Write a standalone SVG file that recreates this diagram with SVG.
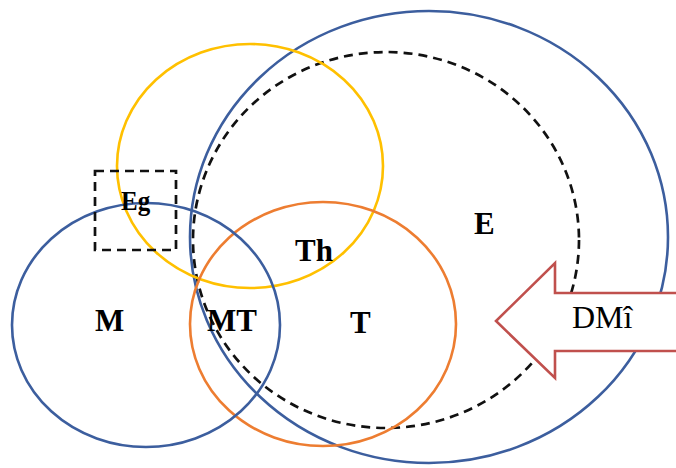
<svg xmlns="http://www.w3.org/2000/svg" width="676" height="468" viewBox="0 0 676 468">
<style>
.c{fill:none;stroke-width:2.6}
.blue{stroke:#3C5E9E}
.dash{fill:none;stroke:#111;stroke-width:2.7;stroke-dasharray:9 6}
.lb{font-family:"Liberation Serif",serif;font-weight:bold;font-size:31px;fill:#000}
</style>
<rect width="676" height="468" fill="#fff"/>
<g id="E"><ellipse class="c blue" cx="429" cy="237" rx="239" ry="226"/></g>
<g id="dashed-ellipse"><ellipse class="dash" cx="386" cy="240" rx="193" ry="188"/></g>
<g id="Th-circle"><ellipse class="c" stroke="#FFC000" cx="250" cy="166" rx="133" ry="122"/></g>
<g id="T-circle"><ellipse class="c" stroke="#ED7D31" cx="323" cy="324" rx="133" ry="122"/></g>
<g id="M-circle"><ellipse class="c blue" cx="146" cy="325" rx="134" ry="122"/></g>
<g id="Eg"><rect class="dash" x="95" y="171" width="81" height="79"/>
<text class="lb" x="121" y="210" style="font-size:25px" transform="translate(0,210) scale(1,1.12) translate(0,-210)">Eg</text></g>
<g id="DMi"><path d="M678,293 H555 V263 L496,321 L555,378 V351 H678 Z" fill="#fff" stroke="#C0504D" stroke-width="2.6"/>
<text x="572" y="328" font-family="'Liberation Serif',serif" font-size="32" fill="#000">DMî</text></g>
<g id="labels">
<text class="lb" x="474" y="234">E</text>
<text class="lb" x="295" y="261">Th</text>
<text class="lb" x="350" y="333">T</text>
<text class="lb" x="95" y="331">M</text>
<text class="lb" x="207" y="331">MT</text>
</g>
</svg>
